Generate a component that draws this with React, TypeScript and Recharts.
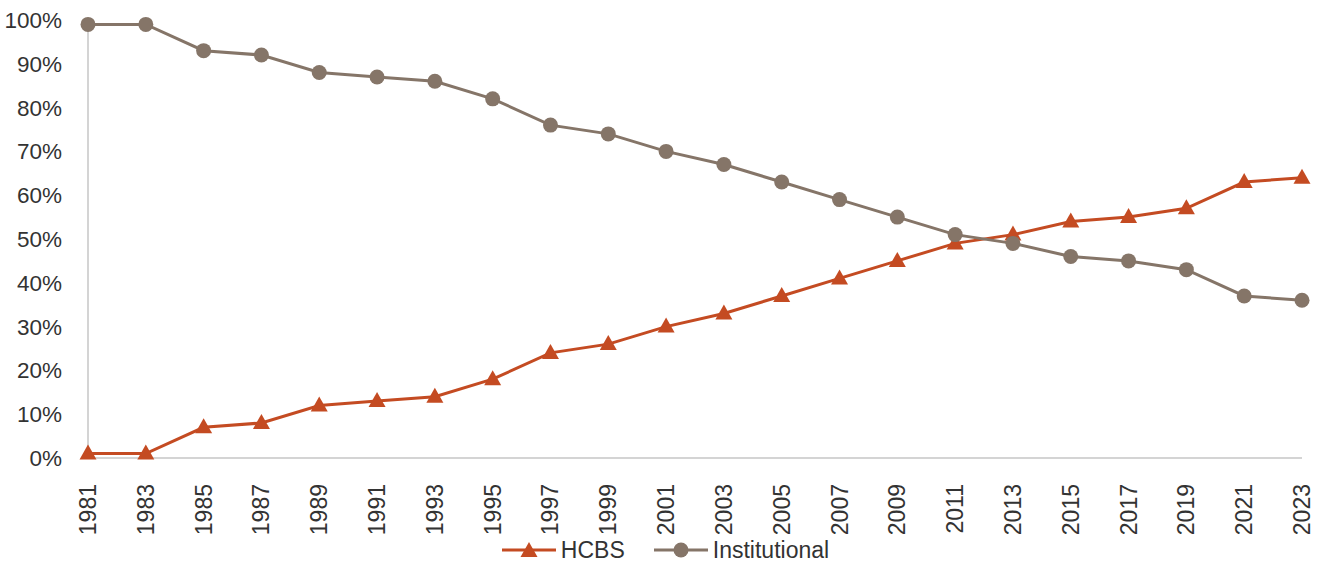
import React from 'react'
import { LineChart, Line, XAxis, YAxis, Legend } from 'recharts'

const years = [
  '1981', '1983', '1985', '1987', '1989', '1991', '1993', '1995', '1997', '1999', '2001',
  '2003', '2005', '2007', '2009', '2011', '2013', '2015', '2017', '2019', '2021', '2023',
]
const hcbs = [1, 1, 7, 8, 12, 13, 14, 18, 24, 26, 30, 33, 37, 41, 45, 49, 51, 54, 55, 57, 63, 64]
const institutional = [99, 99, 93, 92, 88, 87, 86, 82, 76, 74, 70, 67, 63, 59, 55, 51, 49, 46, 45, 43, 37, 36]
const yTicks = [0, 10, 20, 30, 40, 50, 60, 70, 80, 90, 100]

const data = years.map((year, i) => ({ year, hcbs: hcbs[i], institutional: institutional[i] }))

const ORANGE = '#C44B22'
const TAUPE = '#857568'
const AXIS = '#d4d4d4'
const TEXT = '#333333'
const FONT = '"Liberation Sans", Arial, sans-serif'

function Triangle({ cx, cy, fill }: { cx?: number; cy?: number; fill: string }) {
  if (cx == null || cy == null) return null
  return <polygon points={`${cx},${cy - 9} ${cx - 8.5},${cy + 6} ${cx + 8.5},${cy + 6}`} fill={fill} />
}

function YearTick({ x, y, payload }: any) {
  return (
    <text
      x={x}
      y={y + 18}
      transform={`rotate(-90, ${x}, ${y + 18})`}
      textAnchor="end"
      dominantBaseline="central"
      fill={TEXT}
      fontSize={23}
      fontFamily={FONT}
    >
      {payload.value}
    </text>
  )
}

function LegendRow() {
  const item = (label: string, color: string, marker: 'tri' | 'dot', gap: number) => (
    <div style={{ display: 'flex', alignItems: 'center', marginRight: gap }}>
      <svg width={56} height={20} style={{ marginRight: 4 }}>
        <line x1={1} y1={10} x2={55} y2={10} stroke={color} strokeWidth={3} />
        {marker === 'tri' ? (
          <polygon points="28,2 19.5,17 36.5,17" fill={color} />
        ) : (
          <circle cx={28} cy={10} r={7.5} fill={color} />
        )}
      </svg>
      <span style={{ fontSize: 23, color: TEXT, fontFamily: FONT }}>{label}</span>
    </div>
  )
  return (
    <div
      style={{
        display: 'flex',
        justifyContent: 'center',
        alignItems: 'center',
        height: 24,
        paddingTop: 6,
        paddingLeft: 28,
      }}
    >
      {item('HCBS', ORANGE, 'tri', 28)}
      {item('Institutional', TAUPE, 'dot', 0)}
    </div>
  )
}

export default function App() {
  return (
    <div style={{ position: 'absolute', left: 0, top: 0, background: '#fff' }}>
      <LineChart width={1324} height={562} data={data} margin={{ top: 20, right: 22, bottom: 0, left: 0 }}>
        <XAxis
          dataKey="year"
          interval={0}
          height={74}
          stroke={AXIS}
          strokeWidth={2}
          tickLine={false}
          tick={<YearTick />}
        />
        <YAxis
          width={88}
          domain={[0, 100]}
          ticks={yTicks}
          interval={0}
          stroke={AXIS}
          strokeWidth={2}
          tickLine={false}
          tickMargin={20}
          tickFormatter={(v: number) => `${v}%`}
          tick={{ fill: TEXT, fontSize: 22.5, fontFamily: FONT }}
        />
        <Legend verticalAlign="bottom" content={() => <LegendRow />} />
        <Line
          dataKey="hcbs"
          name="HCBS"
          stroke={ORANGE}
          strokeWidth={3}
          isAnimationActive={false}
          dot={(p: any) => <Triangle key={`t${p.index}`} cx={p.cx} cy={p.cy} fill={ORANGE} />}
          activeDot={false}
        />
        <Line
          dataKey="institutional"
          name="Institutional"
          stroke={TAUPE}
          strokeWidth={3}
          isAnimationActive={false}
          dot={{ r: 7.5, fill: TAUPE, stroke: 'none' }}
          activeDot={false}
        />
      </LineChart>
    </div>
  )
}
